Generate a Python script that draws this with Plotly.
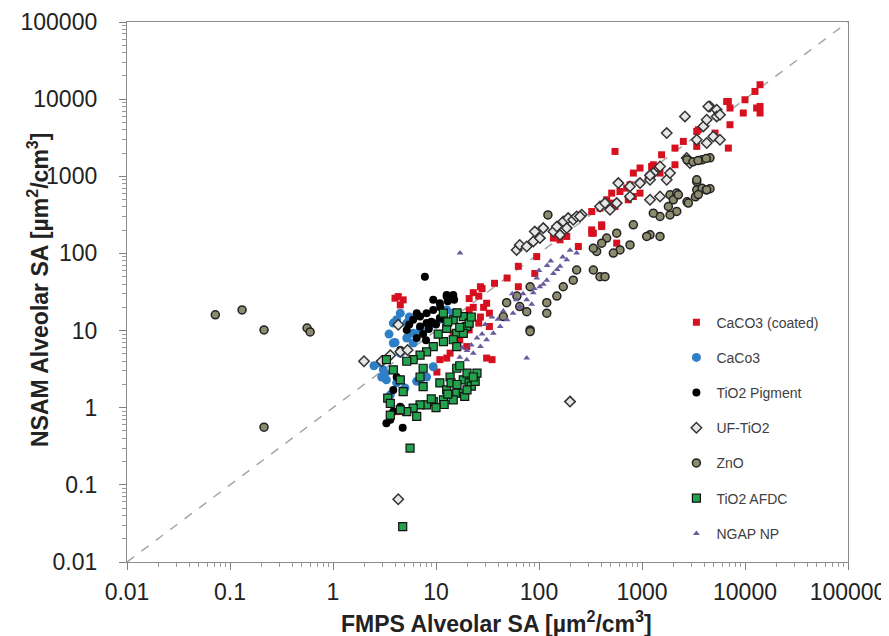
import plotly.graph_objects as go

# ---------------- data ----------------
caco3c_x = [14000, 12500, 10000, 6890, 7150, 9620, 12970, 14000, 14000, 7150, 6890, 5310, 5120, 3520, 3400,
            2520, 2090, 1550, 1240, 957, 2090, 547, 1496, 1150, 764, 508, 325, 406, 325, 957, 736, 1290, 3400,
            6640, 824, 824, 710, 611, 454, 508, 391, 406, 337, 325, 568, 547, 241, 186, 160, 138, 95, 91, 63,
            63, 49, 37, 28, 26, 21, 23, 29, 27, 33, 21, 17, 14.7, 10.9, 13.7, 31, 35, 4.3, 4.8, 4.5, 4.0, 19.9,
            10.2, 12.7, 4.3, 23, 27, 31, 33, 21, 26]
caco3c_y = [15380, 12590, 9820, 9330, 7670, 6610, 7670, 6610, 8040, 4660, 2320, 6610, 3630, 4010, 2440,
            2830, 2320, 1900, 1340, 1280, 1410, 2100, 1100, 948, 776, 605, 349, 223, 183, 605, 496, 1410, 3810,
            9330, 1100, 547, 703, 635, 496, 449, 386, 235, 183, 202, 136, 406, 123, 166, 150, 158, 91, 55, 68,
            37, 48, 41, 35, 28, 26, 20, 20, 15, 11.3, 10.2, 7.6, 9.2, 4.2, 5.1, 4.4, 4.2, 27.6, 25, 21.5, 26.3, 6.2,
            2.9, 4.4, 0.89, 31, 37, 22.6, 16.8, 18.5, 12.5]

caco3_x = [4.15, 4.5, 5.2, 6.0, 7.0, 6.0, 3.85, 4.5, 3.08, 2.97, 3.3, 4.15, 7.0, 8.1, 9.4, 12.7, 14.7, 5.2,
           3.85, 4.8, 3.6, 2.86, 3.5, 4.0, 5.5, 8.5, 11, 3.2, 2.5, 6.5, 5.0]
caco3_y = [13.8, 16.8, 12.5, 9.2, 10.2, 6.9, 6.9, 5.1, 3.1, 2.5, 2.3, 2.1, 2.4, 2.5, 3.4, 18.5, 16.8, 8.0,
           12.5, 1.7, 1.47, 3.8, 9, 7, 15, 11, 14, 2.8, 3.5, 2.2, 1.8]

tio2p_x = [6.0, 7.0, 8.1, 9.4, 10.9, 12.7, 14.7, 9.4, 8.1, 7.0, 9.4, 10.9, 5.2, 6.5, 4.5, 4.15, 4.5, 3.85,
           4.5, 3.85, 3.3, 3.6, 4.75, 7.8, 12.7, 14.7, 11, 13, 15, 9, 7.5, 8.5, 10, 12, 5.5, 6.5, 8]
tio2p_y = [13.8, 15.2, 16.8, 18.5, 22.6, 27.6, 29, 25, 12.5, 11.3, 12.5, 14.5, 10.2, 16.8, 5.6, 2.5, 2.3, 1.7,
           1.03, 0.89, 0.63, 0.70, 0.55, 50, 29, 27.6, 20, 24, 25, 13, 9, 10.5, 12, 14, 12, 8, 7.5]

uftio2_x = [60.7, 65, 76, 88, 91, 110, 102, 138, 149, 172, 192, 215, 232, 260, 160, 186, 391, 437, 489, 568,
            589, 764, 957, 1196, 1290, 1496, 1738, 1871, 1196, 1496, 1738, 2612, 3396, 3936, 4246, 4571, 5309,
            4920, 5715, 4246, 2716, 2924, 5309, 4403, 5715, 1196, 764, 250,
            3.6, 4.5, 5.3, 2.97, 2.0, 4.3, 4.3, 200]
uftio2_y = [111, 129, 123, 143, 192, 213, 158, 192, 223, 259, 287, 273, 301, 317, 174, 213, 406, 449, 368, 449,
            816, 738, 816, 902, 1101, 1340, 902, 1101, 496, 547, 3631, 5970, 2972, 4426, 5408, 8040, 7290,
            3281, 2972, 2698, 1722, 1483, 5970, 8040, 6281, 1028, 547, 301,
            4.8, 5.3, 5.6, 4.0, 4.0, 11.9, 0.065, 1.2]

zno_x = [0.072, 0.131, 0.214, 0.56, 0.6, 0.214,
         2735, 3126, 3830, 4570, 3500, 4200, 3400, 3830, 4200, 4570, 3300, 2735, 3400,
         1871, 2173, 2014, 1803, 2173, 1871, 1496, 1288, 1196, 1110, 1496, 824, 765, 611, 527, 454, 406, 363,
         337, 391, 437, 337, 232, 215, 172, 149, 119, 82, 76, 65, 45, 48.5, 61, 82, 122, 568,
         3400, 4246, 3520, 2818, 2254, 119, 82]
zno_y = [16, 18.5, 10.2, 10.8, 9.6, 0.56,
         1637, 1542, 1637, 1738, 1600, 1700, 668, 700, 668, 690, 542, 467, 850,
         575, 605, 496, 406, 350, 316, 301, 333, 174, 166, 166, 235, 129, 111, 101, 158, 136, 106,
         61, 50, 50, 117, 61, 45, 37, 28, 23, 10.2, 17.6, 20.5, 15.2, 23, 28, 37, 316, 183,
         902, 668, 580, 449, 575, 16.8, 9.7]

afdc_x = [5.6, 4.75, 11.8, 14.7, 18.4, 19.9, 12.7, 15.9, 11.8, 9.4, 8.1, 7.0, 6.0, 5.2, 18.4, 21, 14.7, 15.9,
          7.5, 15.9, 13.7, 18.4, 21, 10.9, 12.7, 15.9, 18.4, 14.7, 11.8, 9.4, 8.1, 7.0, 6.0, 5.2, 6.5, 7.5, 7.0,
          3.4, 3.85, 4.5, 3.3, 4.8, 3.6, 4.5, 22, 24, 25, 20, 17, 19, 12, 10, 9, 14, 16, 13, 10.5, 17, 22,
          20, 16, 13, 23, 3.6]
afdc_y = [0.30, 0.0287, 16.8, 13.8, 15.2, 11.3, 10.7, 9.2, 7.2, 6.2, 5.3, 4.8, 4.2, 4.0, 9.2, 12.5, 7.6, 6.2,
          3.25, 3.25, 2.5, 2.3, 2.1, 2.1, 1.7, 1.54, 1.54, 1.26, 1.26, 1.2, 1.09, 1.09, 0.99, 0.89, 0.77, 1.88, 2.5,
          1.33, 3.1, 2.3, 4.2, 1.62, 1.14, 0.94, 1.9, 2.2, 2.8, 2.8, 3.5, 1.4, 1.1, 1.0, 1.3, 2.1, 17, 13, 9, 11, 15,
          1.7, 2.0, 1.5, 2.5, 0.8]

ngap_x = [232, 186, 160, 138, 119, 102, 88, 76, 65, 56, 49, 42, 36, 31, 27, 23, 19.9,
          130, 150, 95, 110, 70, 60, 85, 45, 40, 30, 28, 25, 22, 20, 17, 18, 55, 100, 120, 170, 200, 90, 65, 35,
          17.1, 76]
ngap_y = [101, 83, 68, 55, 45, 37, 31, 25, 20.5, 16.8, 13.8, 11.3, 9.2, 7.6, 6.2, 5.1, 4.2,
          80, 62, 48, 40, 30, 25, 22, 18, 14, 12, 9, 8, 6.5, 5.5, 4.5, 6, 30, 60, 70, 90, 110, 35, 20, 15,
          101, 4.4]

diag = [0.01, 100000]

tick_vals = [0.01, 0.1, 1, 10, 100, 1000, 10000, 100000]
tick_text = ["0.01", "0.1", "1", "10", "100", "1000", "10000", "100000"]

x_title = "<b>FMPS Alveolar SA [µm<sup>2</sup>/cm<sup>3</sup>]</b>"
y_title = "<b>NSAM Alveolar SA [µm<sup>2</sup>/cm<sup>3</sup>]</b>"

FONT = "Liberation Sans, Arial, sans-serif"

# minor tick positions (2..9 within each decade)
minor_vals = [m * 10.0 ** e for e in range(-2, 5) for m in range(2, 10)]

fig = go.Figure()

fig.add_trace(go.Scatter(x=diag, y=diag, mode="lines", showlegend=False,
                         line=dict(color="#a6a6a6", width=1.5, dash="dash"), hoverinfo="skip"))

series = [
    ("CaCO3 (coated)", caco3c_x, caco3c_y, dict(symbol="square", size=7, color="#d7101f", line=dict(width=0))),
    ("CaCo3", caco3_x, caco3_y, dict(symbol="circle", size=9, color="#2f7fc6", line=dict(width=0))),
    ("TiO2 Pigment", tio2p_x, tio2p_y, dict(symbol="circle", size=8, color="#000000", line=dict(width=0))),
    ("UF-TiO2", uftio2_x, uftio2_y, dict(symbol="diamond", size=8, color="#e6e6e6",
                                         line=dict(width=1.5, color="#333333"))),
    ("ZnO", zno_x, zno_y, dict(symbol="circle", size=8, color="#8c8b6e", line=dict(width=1.5, color="#222222"))),
    ("TiO2 AFDC", afdc_x, afdc_y, dict(symbol="square", size=8, color="#23a24d", line=dict(width=1.2, color="#111111"))),
    ("NGAP NP", ngap_x, ngap_y, dict(symbol="triangle-up", size=6, color="#6a5c9c", line=dict(width=0))),
]
for i, (name, xs, ys, mk) in enumerate(series):
    fig.add_trace(go.Scatter(x=xs, y=ys, mode="markers", name=name, marker=mk,
                             legendgroup="g%d" % i))

axis_common = dict(
    type="log", range=[-2, 5], tickmode="array", tickvals=tick_vals, ticktext=tick_text,
    showgrid=False, zeroline=False, showline=True, linecolor="#8c8c8c", linewidth=1.3, mirror=True,
    ticks="outside", ticklen=7, tickcolor="#7f7f7f", tickwidth=1, automargin=False,
    minor=dict(tickmode="array", tickvals=minor_vals, ticks="outside", ticklen=4,
               tickcolor="#9a9a9a", showgrid=False),
    tickfont=dict(family=FONT, size=23, color="#222222"),
)

fig.update_layout(
    width=881, height=628,
    margin=dict(l=119, r=41, t=14, b=74),
    paper_bgcolor="white", plot_bgcolor="white",
    xaxis=dict(axis_common, ticklabelstandoff=2),
    yaxis=dict(axis_common, ticklabelstandoff=17),
    legend=dict(x=0.762, y=0.473, xanchor="left", yanchor="top", bgcolor="rgba(0,0,0,0)",
                font=dict(family=FONT, size=14, color="#404040"), tracegroupgap=14),
    showlegend=True,
    annotations=[
        dict(text=x_title, xref="paper", yref="paper", x=(496 - 127) / 721, y=-(622 - 562) / 540,
             xanchor="center", yanchor="middle", showarrow=False,
             font=dict(family=FONT, size=23, color="#222222")),
        dict(text=y_title, xref="paper", yref="paper", x=-(127 - 38) / 721, y=(562 - 290) / 540,
             xanchor="center", yanchor="middle", showarrow=False, textangle=-90,
             font=dict(family=FONT, size=23, color="#222222")),
    ],
)

fig.write_html("out.html")
